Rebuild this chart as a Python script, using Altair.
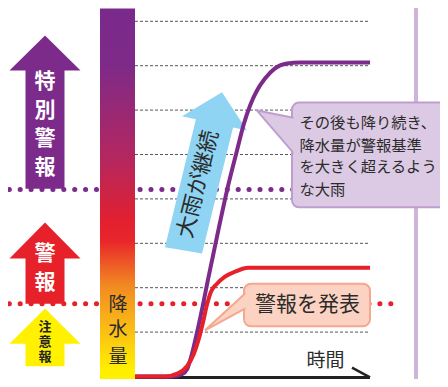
import altair as alt
import pandas as pd

# ---------------- data (time: arbitrary units, rainfall: grid steps) ----------------
time_red = [0, 1.2, 1.72, 2.08, 2.36, 2.56, 2.72, 2.88, 3.04, 3.28, 3.6, 4.0, 4.52, 9.4]
level_red = [0, 0, 0.07, 0.23, 0.52, 0.86, 1.22, 1.62, 1.91, 2.09, 2.25, 2.36, 2.45, 2.45]
time_purple = [0, 1.48, 1.88, 2.08, 2.24, 2.48, 2.72, 2.92, 3.12, 3.4, 3.68, 4.08, 4.36,
               4.6, 4.88, 5.2, 5.6, 6.08, 6.6, 9.4]
level_purple = [0, 0, 0.05, 0.16, 0.43, 0.99, 1.62, 2.18, 2.72, 3.47, 4.19, 5.09, 5.7,
                6.1, 6.44, 6.71, 6.94, 7.05, 7.07, 7.07]
grid_levels = [1, 2, 3, 4, 5, 6, 7, 8]
warning_level = 1.64
special_level = 4.21
time_end = 9.4

callout_purple_lines = ["その後も降り続き、", "降水量が警報基準", "を大きく超えるよう", "な大雨"]
callout_pink_text = "警報を発表"
blue_arrow_text = "大雨が継続"
axis_text = "時間"
bar_text = ["降", "水", "量"]
special_text = ["特", "別", "警", "報"]
warning_text = ["警", "報"]
advisory_text = ["注", "意", "報"]

PURPLE = "#7D2B8B"
RED = "#E6212A"
YELLOW = "#FFF100"
BLUE = "#8FD4F3"
FONT = "Noto Sans CJK JP"

X_DOMAIN = [-5.08, 12.2]
Y_DOMAIN = [-0.0563, 8.2995]
XS = alt.Scale(domain=X_DOMAIN, nice=False, zero=False)
YS = alt.Scale(domain=Y_DOMAIN, nice=False, zero=False)


def ex(f):
    return alt.X(f, type="quantitative", scale=XS, axis=None)


def ey(f):
    return alt.Y(f, type="quantitative", scale=YS, axis=None, stack=None)


def polygon_rows(verts, name, color):
    xs = sorted(set(v[0] for v in verts))
    rows = []
    n = len(verts)
    for x in xs:
        ys = []
        for i in range(n):
            (x1, y1), (x2, y2) = verts[i], verts[(i + 1) % n]
            if x1 == x2:
                if x == x1:
                    ys += [y1, y2]
            elif min(x1, x2) <= x <= max(x1, x2):
                ys.append(y1 + (y2 - y1) * (x - x1) / (x2 - x1))
        rows.append(dict(t=x, top=max(ys), bot=min(ys), shape=name, fill=color))
    return rows


def area_layer(rows, **kw):
    return alt.Chart(pd.DataFrame(rows)).mark_area(interpolate="linear", **kw).encode(
        x=ex("t"), y=ey("top"), y2=alt.Y2("bot"),
        detail="shape:N", color=alt.Color("fill:N", scale=None))


def rect_layer(rows, **kw):
    return alt.Chart(pd.DataFrame(rows)).mark_rect(**kw).encode(
        x=ex("t1"), x2=alt.X2("t2"), y=ey("l1"), y2=alt.Y2("l2"))


layers = []

# lavender vertical line
layers.append(alt.Chart(pd.DataFrame([dict(t=11.24, l1=-0.3, l2=8.6)])).mark_rule(
    color="#CEB5D9", strokeWidth=4).encode(x=ex("t"), y=ey("l1"), y2=alt.Y2("l2")))

# dotted threshold lines
thr = pd.DataFrame([dict(t1=-5.03, t2=10.28, l=special_level, c=PURPLE),
                    dict(t1=-5.03, t2=10.28, l=warning_level, c=RED)])
layers.append(alt.Chart(thr).mark_rule(strokeWidth=5, strokeDash=[0.1, 10.8], strokeCap="round").encode(
    x=ex("t1"), x2=alt.X2("t2"), y=ey("l"), color=alt.Color("c:N", scale=None)))

# dashed grid
grid = pd.DataFrame(dict(l=grid_levels, t1=[0] * len(grid_levels), t2=[time_end] * len(grid_levels)))
layers.append(alt.Chart(grid).mark_rule(color="#555555", strokeWidth=1, strokeDash=[3, 2]).encode(
    x=ex("t1"), x2=alt.X2("t2"), y=ey("l")))

# baseline + arrow tick
base = pd.DataFrame([dict(t1=0, t2=time_end, l1=-0.02, l2=-0.02, w=3),
                     dict(t1=8.68, t2=time_end, l1=0.2, l2=-0.02, w=2.5)])
layers.append(alt.Chart(base).mark_rule(color="#222222", strokeCap="butt").encode(
    x=ex("t1"), x2=alt.X2("t2"), y=ey("l1"), y2=alt.Y2("l2"),
    strokeWidth=alt.StrokeWidth("w:Q", scale=None)))

# gradient bar
grad = alt.Gradient(gradient="linear", x1=0, x2=0, y1=0, y2=1, stops=[
    alt.GradientStop(color="#7A2A8C", offset=0),
    alt.GradientStop(color="#7E2A89", offset=0.15),
    alt.GradientStop(color="#B4275F", offset=0.40),
    alt.GradientStop(color="#E3202F", offset=0.57),
    alt.GradientStop(color="#E8262A", offset=0.62),
    alt.GradientStop(color="#F28A22", offset=0.74),
    alt.GradientStop(color="#FABF15", offset=0.86),
    alt.GradientStop(color="#FFEE00", offset=0.96),
    alt.GradientStop(color="#FFF100", offset=1)])
layers.append(rect_layer([dict(t1=-1.4, t2=0, l1=8.29, l2=-0.15)], color=grad))

# left arrows
arrow_specs = [  # (tip, head base, shaft bottom, color)
    (7.68, 6.89, 4.23, PURPLE),
    (3.47, 2.66, 1.64, RED),
    (1.53, 0.74, 0.23, YELLOW),
]
cx, hw, sw = -3.6, 1.42, 0.78
shaft_rows, head_rows = [], []
for i, (tip, hb, sb, c) in enumerate(arrow_specs):
    shaft_rows.append(dict(t1=cx - sw, t2=cx + sw, l1=hb + 0.02, l2=sb, c=c))
    head_rows += polygon_rows([(cx - hw, hb), (cx, tip), (cx + hw, hb)], f"h{i}", c)
layers.append(alt.Chart(pd.DataFrame(shaft_rows)).mark_rect().encode(
    x=ex("t1"), x2=alt.X2("t2"), y=ey("l1"), y2=alt.Y2("l2"), color=alt.Color("c:N", scale=None)))
layers.append(area_layer(head_rows))

# blue arrow
blue_rows = polygon_rows([(3.48, 6.40), (1.88, 5.86), (4.48, 5.54)], "bh", BLUE)
blue_rows += polygon_rows([(2.46, 5.85), (3.94, 5.65), (2.68, 2.77), (1.2, 2.91)], "bs", BLUE)
layers.append(area_layer(blue_rows))

# curves
purple_df = pd.DataFrame(dict(t=time_purple, l=level_purple))
red_df = pd.DataFrame(dict(t=time_red, l=level_red))
layers.append(alt.Chart(purple_df).mark_line(color=PURPLE, strokeWidth=4, interpolate="monotone",
                                              strokeCap="butt").encode(x=ex("t"), y=ey("l")))
layers.append(alt.Chart(red_df).mark_line(color=RED, strokeWidth=4, interpolate="monotone",
                                          strokeCap="butt").encode(x=ex("t"), y=ey("l")))

# purple callout
PF, PS = "#DCC9E4", "#BF9ECF"
layers.append(rect_layer([dict(t1=6.28, t2=13.5, l1=6.17, l2=3.81)], fill=PF, stroke=PS,
                         strokeWidth=2, cornerRadius=7))
layers.append(area_layer(polygon_rows([(4.88, 5.99), (6.5, 5.81), (6.5, 4.93)], "pt", PF),
                         stroke=PS, strokeWidth=2))
layers.append(rect_layer([dict(t1=6.34, t2=13.5, l1=6.136, l2=3.844)], fill=PF, cornerRadius=6))

# pink callout
KF, KS = "#FCD3C2", "#F4A88E"
layers.append(rect_layer([dict(t1=4.36, t2=9.4, l1=2.09, l2=1.13)], fill=KF, stroke=KS,
                         strokeWidth=2, cornerRadius=7))
layers.append(area_layer(polygon_rows([(2.8, 1.04), (4.6, 1.97), (4.6, 1.59)], "kt", KF),
                         stroke=KS, strokeWidth=2))
layers.append(rect_layer([dict(t1=4.42, t2=9.34, l1=2.056, l2=1.164)], fill=KF, cornerRadius=6))

# texts
bold_rows = []
for ch, l in zip(special_text, [6.63, 5.98, 5.34, 4.70]):
    bold_rows.append(dict(text=ch, t=cx, l=l, size=21, c="#FFFFFF"))
for ch, l in zip(warning_text, [2.75, 2.11]):
    bold_rows.append(dict(text=ch, t=cx, l=l, size=21, c="#FFFFFF"))
for ch, l in zip(advisory_text, [1.126, 0.788, 0.45]):
    bold_rows.append(dict(text=ch, t=cx, l=l, size=13, c="#222222"))
layers.append(alt.Chart(pd.DataFrame(bold_rows)).mark_text(
    font=FONT, fontWeight="bold", align="center", baseline="middle").encode(
    x=ex("t"), y=ey("l"), text="text:N", size=alt.Size("size:Q", scale=None),
    color=alt.Color("c:N", scale=None)))

norm_rows = []
for ch, l in zip(bar_text, [1.62, 1.04, 0.45]):
    norm_rows.append(dict(text=ch, t=-0.68, l=l, size=19, a=0))
norm_rows.append(dict(text=axis_text, t=7.62, l=0.36, size=19, a=0))
norm_rows.append(dict(text=callout_pink_text, t=6.9, l=1.60, size=21, a=0))
norm_rows.append(dict(text=blue_arrow_text, t=2.52, l=4.33, size=22, a=284))
layers.append(alt.Chart(pd.DataFrame(norm_rows)).mark_text(
    font=FONT, align="center", baseline="middle", color="#2B2B2B").encode(
    x=ex("t"), y=ey("l"), text="text:N", size=alt.Size("size:Q", scale=None),
    angle=alt.Angle("a:Q", scale=None)))

box_rows = [dict(text=s, t=6.58, l=l) for s, l in zip(callout_purple_lines, [5.70, 5.20, 4.71, 4.21])]
layers.append(alt.Chart(pd.DataFrame(box_rows)).mark_text(
    font=FONT, align="left", baseline="middle", color="#2B2B2B", fontSize=15.3).encode(
    x=ex("t"), y=ey("l"), text="text:N"))

chart = alt.layer(*layers).properties(
    width=432, height=371, padding=0, autosize=alt.AutoSizeParams(type="none")
).configure_view(strokeWidth=0)

chart.save("out.html", embed_options={"renderer": "svg", "actions": False})
